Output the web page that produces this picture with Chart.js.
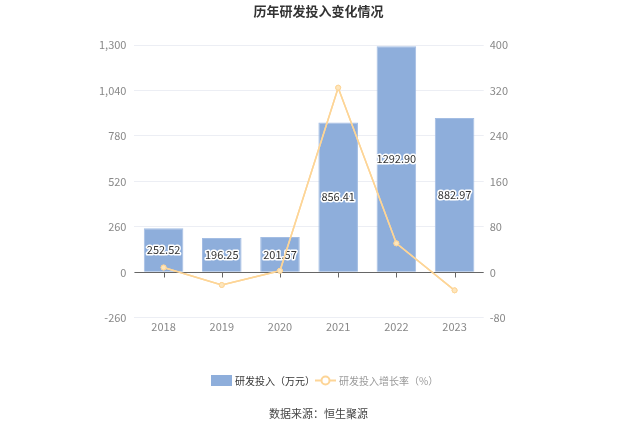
<!DOCTYPE html>
<html>
<head>
<meta charset="utf-8">
<script src="https://cdn.jsdelivr.net/npm/chart.js@4/dist/chart.umd.min.js"></script>
<style>
  html, body { margin: 0; padding: 0; background: #fff; }
  #wrap { width: 637px; height: 431px; position: relative; }
</style>
</head>
<body>
<div id="wrap"><canvas id="rdChart" width="637" height="431"></canvas></div>
<script>
// 数据
const years = ['2018', '2019', '2020', '2021', '2022', '2023'];
const rdSpend = [252.52, 196.25, 201.57, 856.41, 1292.90, 882.97];   // 研发投入（万元）
const rdGrowth = [8.5, -22.28, 2.71, 324.87, 50.97, -31.71];          // 研发投入增长率（%）
const leftTicks = [-260, 0, 260, 520, 780, 1040, 1300];
const rightTicks = [-80, 0, 80, 160, 240, 320, 400];

const FONT = '"Noto Sans CJK SC", "Noto Sans", sans-serif';
const barColor = '#8eaedb';
const lineColor = '#fdd597';

// 标题、来源、图例、零线与柱内数值
const decorPlugin = {
  id: 'decor',
  afterDatasetsDraw(chart) {
    const ctx = chart.ctx;
    const { chartArea } = chart;
    const yL = chart.scales.y;
    const xS = chart.scales.x;
    const zeroY = Math.round(yL.getPixelForValue(0)) + 0.5;

    // 零线 + 刻度
    ctx.save();
    ctx.strokeStyle = '#666';
    ctx.lineWidth = 1;
    ctx.beginPath();
    ctx.moveTo(chartArea.left, zeroY);
    ctx.lineTo(chartArea.right, zeroY);
    years.forEach((_, i) => {
      const x = Math.round(xS.getPixelForValue(i)) + 0.5;
      ctx.moveTo(x, zeroY);
      ctx.lineTo(x, zeroY + 5);
    });
    ctx.stroke();
    ctx.restore();

    // 柱内数值
    const meta = chart.getDatasetMeta(0);
    ctx.save();
    ctx.font = '11px ' + FONT;
    ctx.textAlign = 'center';
    ctx.textBaseline = 'middle';
    ctx.lineJoin = 'round';
    meta.data.forEach((bar, i) => {
      const cy = (bar.y + bar.base) / 2;
      const txt = rdSpend[i].toFixed(2);
      ctx.strokeStyle = '#fff';
      ctx.lineWidth = 3;
      ctx.strokeText(txt, bar.x, cy);
      ctx.fillStyle = '#333';
      ctx.fillText(txt, bar.x, cy);
    });
    ctx.restore();

    // 折线重画在最上层
    chart.getDatasetMeta(1).controller.draw();
  },
  afterDraw(chart) {
    const ctx = chart.ctx;
    const W = chart.width;
    ctx.save();
    ctx.fillStyle = '#333';
    ctx.font = 'bold 13px ' + FONT;
    ctx.textAlign = 'center';
    ctx.textBaseline = 'middle';
    ctx.fillText('历年研发投入变化情况', W / 2, 11);

    ctx.font = '11px ' + FONT;
    ctx.fillStyle = '#444';
    ctx.fillText('数据来源：恒生聚源', W / 2, 414);

    // 图例
    const ly = 380;
    ctx.font = '10px ' + FONT;
    ctx.fillStyle = barColor;
    ctx.fillRect(211, ly - 5, 21, 11);
    ctx.fillStyle = '#333';
    ctx.textAlign = 'left';
    ctx.fillText('研发投入（万元）', 235, ly + 1);

    ctx.strokeStyle = lineColor;
    ctx.lineWidth = 2;
    ctx.beginPath();
    ctx.moveTo(315, ly + 0.5);
    ctx.lineTo(336, ly + 0.5);
    ctx.stroke();
    ctx.beginPath();
    ctx.arc(325.5, ly + 0.5, 4, 0, Math.PI * 2);
    ctx.fillStyle = '#fff';
    ctx.fill();
    ctx.stroke();
    ctx.fillStyle = '#999';
    ctx.fillText('研发投入增长率（%）', 339, ly + 1);
    ctx.restore();
  }
};

new Chart(document.getElementById('rdChart').getContext('2d'), {
  type: 'bar',
  data: {
    labels: years,
    datasets: [
      {
        label: '研发投入（万元）',
        data: rdSpend,
        backgroundColor: barColor,
        borderColor: '#a3bde3',
        borderWidth: 1,
        categoryPercentage: 0.68,
        barPercentage: 1,
        yAxisID: 'y',
        order: 2
      },
      {
        label: '研发投入增长率（%）',
        type: 'line',
        data: rdGrowth,
        borderColor: lineColor,
        borderWidth: 1.5,
        pointRadius: 2.5,
        pointBackgroundColor: '#fde6bd',
        pointBorderColor: lineColor,
        pointBorderWidth: 1,
        tension: 0,
        yAxisID: 'y1',
        order: 1
      }
    ]
  },
  options: {
    responsive: false,
    animation: false,
    layout: { padding: { left: 91, right: 123, top: 45, bottom: 96 } },
    plugins: {
      legend: { display: false },
      tooltip: { enabled: false }
    },
    scales: {
      x: {
        grid: { display: false, drawTicks: false },
        border: { display: false },
        ticks: { color: '#888', font: { size: 11, family: FONT }, padding: 2 }
      },
      y: {
        position: 'left',
        min: -260,
        max: 1300,
        afterBuildTicks: (axis) => { axis.ticks = leftTicks.map(v => ({ value: v })); },
        grid: { color: '#eceef4', drawTicks: false },
        border: { display: false },
        ticks: {
          color: '#888',
          font: { size: 11, family: FONT },
          padding: 8,
          callback: (v) => v.toLocaleString('en-US')
        }
      },
      y1: {
        position: 'right',
        min: -80,
        max: 400,
        afterBuildTicks: (axis) => { axis.ticks = rightTicks.map(v => ({ value: v })); },
        grid: { display: false, drawTicks: false },
        border: { display: false },
        ticks: { color: '#888', font: { size: 11, family: FONT }, padding: 6 }
      }
    }
  },
  plugins: [decorPlugin]
});
</script>
</body>
</html>
